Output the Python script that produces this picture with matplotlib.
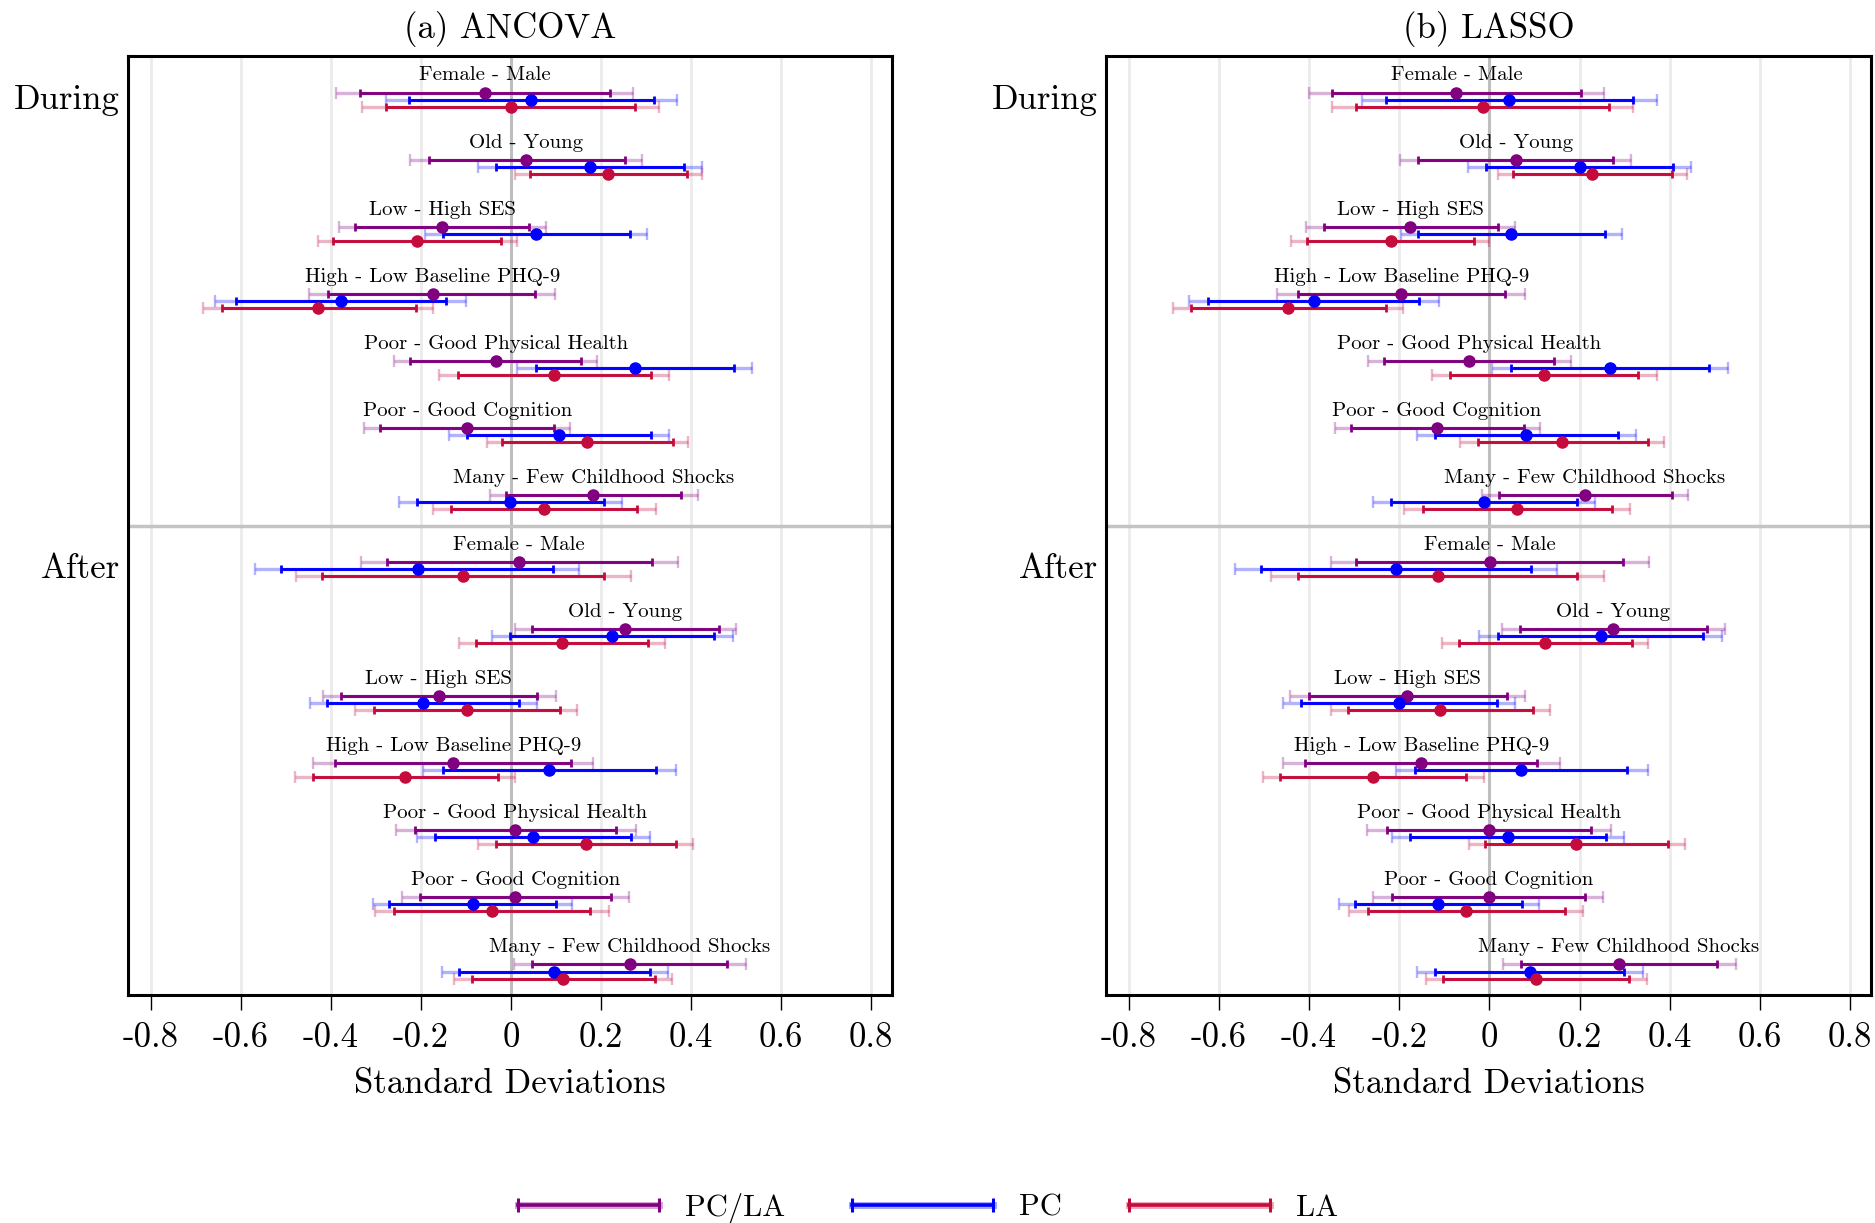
import matplotlib
matplotlib.use("Agg")
import matplotlib.pyplot as plt
from matplotlib.lines import Line2D
from matplotlib.legend_handler import HandlerBase
import numpy as np

plt.rcParams['font.family'] = ['cmr10', 'DejaVu Serif']
plt.rcParams['mathtext.fontset'] = 'cm'
plt.rcParams['axes.unicode_minus'] = False

# ---------------- data ----------------
groups = ["Female - Male", "Old - Young", "Low - High SES", "High - Low Baseline PHQ-9",
          "Poor - Good Physical Health", "Poor - Good Cognition", "Many - Few Childhood Shocks"]
periods = ["During", "After"]
series = ["PC/LA", "PC", "LA"]
panel_titles = ["(a) ANCOVA", "(b) LASSO"]
xtick_vals = [-0.8, -0.6, -0.4, -0.2, 0, 0.2, 0.4, 0.6, 0.8]
xtick_labels = ["-0.8", "-0.6", "-0.4", "-0.2", "0", "0.2", "0.4", "0.6", "0.8"]

# ANCOVA -- 7 During groups then 7 After groups
ancova_pcla_olo = [-0.388, -0.223, -0.381, -0.448, -0.260, -0.327, -0.046, -0.332, 0.008, -0.418, -0.439, -0.256, -0.242, 0.006]
ancova_pcla_ilo = [-0.335, -0.181, -0.345, -0.405, -0.225, -0.290, -0.010, -0.275, 0.047, -0.377, -0.390, -0.213, -0.201, 0.047]
ancova_pcla_est = [-0.057, 0.034, -0.152, -0.174, -0.034, -0.097, 0.183, 0.018, 0.254, -0.160, -0.128, 0.010, 0.010, 0.264]
ancova_pcla_ihi = [0.220, 0.253, 0.040, 0.054, 0.156, 0.095, 0.377, 0.313, 0.461, 0.058, 0.134, 0.234, 0.222, 0.480]
ancova_pcla_ohi = [0.271, 0.292, 0.077, 0.097, 0.191, 0.131, 0.415, 0.370, 0.500, 0.100, 0.183, 0.277, 0.262, 0.522]

ancova_pc_olo = [-0.278, -0.073, -0.191, -0.657, 0.014, -0.138, -0.249, -0.567, -0.043, -0.447, -0.196, -0.209, -0.306, -0.154]
ancova_pc_ilo = [-0.227, -0.033, -0.150, -0.611, 0.055, -0.098, -0.209, -0.510, -0.001, -0.408, -0.150, -0.168, -0.270, -0.116]
ancova_pc_est = [0.044, 0.175, 0.056, -0.378, 0.276, 0.106, -0.001, -0.207, 0.224, -0.195, 0.084, 0.050, -0.085, 0.096]
ancova_pc_ihi = [0.318, 0.384, 0.264, -0.143, 0.495, 0.312, 0.206, 0.093, 0.450, 0.018, 0.321, 0.267, 0.100, 0.308]
ancova_pc_ohi = [0.369, 0.424, 0.303, -0.099, 0.536, 0.352, 0.246, 0.151, 0.492, 0.058, 0.366, 0.309, 0.136, 0.349]

ancova_la_olo = [-0.331, 0.008, -0.429, -0.683, -0.159, -0.054, -0.174, -0.478, -0.115, -0.345, -0.479, -0.073, -0.301, -0.127]
ancova_la_ilo = [-0.277, 0.042, -0.394, -0.641, -0.117, -0.019, -0.134, -0.419, -0.077, -0.303, -0.440, -0.034, -0.260, -0.087]
ancova_la_est = [0.000, 0.216, -0.209, -0.428, 0.096, 0.169, 0.073, -0.106, 0.114, -0.098, -0.235, 0.166, -0.043, 0.115]
ancova_la_ihi = [0.275, 0.392, -0.022, -0.211, 0.310, 0.359, 0.281, 0.206, 0.305, 0.108, -0.029, 0.366, 0.175, 0.319]
ancova_la_ohi = [0.328, 0.425, 0.013, -0.173, 0.352, 0.394, 0.321, 0.266, 0.343, 0.147, 0.010, 0.405, 0.217, 0.358]

# LASSO
lasso_pcla_olo = [-0.400, -0.198, -0.406, -0.470, -0.270, -0.343, -0.016, -0.351, 0.027, -0.442, -0.457, -0.271, -0.258, 0.031]
lasso_pcla_ilo = [-0.349, -0.158, -0.367, -0.425, -0.234, -0.306, 0.021, -0.295, 0.068, -0.399, -0.409, -0.228, -0.215, 0.070]
lasso_pcla_est = [-0.073, 0.058, -0.175, -0.195, -0.046, -0.116, 0.212, 0.001, 0.275, -0.182, -0.151, -0.001, -0.002, 0.287]
lasso_pcla_ihi = [0.203, 0.273, 0.018, 0.035, 0.144, 0.076, 0.404, 0.297, 0.482, 0.038, 0.106, 0.225, 0.211, 0.505]
lasso_pcla_ohi = [0.255, 0.314, 0.056, 0.078, 0.180, 0.112, 0.441, 0.353, 0.523, 0.080, 0.156, 0.269, 0.252, 0.547]

lasso_pc_olo = [-0.283, -0.047, -0.196, -0.667, 0.005, -0.160, -0.259, -0.565, -0.023, -0.457, -0.208, -0.216, -0.333, -0.160]
lasso_pc_ilo = [-0.230, -0.008, -0.158, -0.624, 0.047, -0.121, -0.219, -0.507, 0.019, -0.417, -0.164, -0.175, -0.298, -0.120]
lasso_pc_est = [0.044, 0.200, 0.048, -0.389, 0.268, 0.082, -0.013, -0.207, 0.247, -0.201, 0.070, 0.042, -0.113, 0.090]
lasso_pc_ihi = [0.318, 0.407, 0.257, -0.156, 0.487, 0.286, 0.194, 0.093, 0.474, 0.016, 0.305, 0.259, 0.073, 0.299]
lasso_pc_ohi = [0.372, 0.446, 0.295, -0.111, 0.530, 0.325, 0.234, 0.150, 0.515, 0.057, 0.351, 0.299, 0.109, 0.341]

lasso_la_olo = [-0.349, 0.019, -0.440, -0.702, -0.127, -0.065, -0.190, -0.485, -0.104, -0.352, -0.503, -0.046, -0.311, -0.140]
lasso_la_ilo = [-0.295, 0.053, -0.405, -0.662, -0.088, -0.026, -0.148, -0.424, -0.068, -0.314, -0.465, -0.009, -0.270, -0.102]
lasso_la_est = [-0.015, 0.228, -0.219, -0.447, 0.121, 0.161, 0.061, -0.115, 0.124, -0.109, -0.259, 0.192, -0.052, 0.104]
lasso_la_ihi = [0.265, 0.404, -0.035, -0.230, 0.330, 0.352, 0.271, 0.195, 0.316, 0.096, -0.052, 0.395, 0.167, 0.310]
lasso_la_ohi = [0.318, 0.439, 0.000, -0.191, 0.371, 0.388, 0.311, 0.254, 0.352, 0.134, -0.012, 0.434, 0.208, 0.350]

colors = {"PC/LA": "#800080", "PC": "#0000FF", "LA": "#C50B3B"}

panels = [
    {"PC/LA": (ancova_pcla_olo, ancova_pcla_ilo, ancova_pcla_est, ancova_pcla_ihi, ancova_pcla_ohi),
     "PC": (ancova_pc_olo, ancova_pc_ilo, ancova_pc_est, ancova_pc_ihi, ancova_pc_ohi),
     "LA": (ancova_la_olo, ancova_la_ilo, ancova_la_est, ancova_la_ihi, ancova_la_ohi)},
    {"PC/LA": (lasso_pcla_olo, lasso_pcla_ilo, lasso_pcla_est, lasso_pcla_ihi, lasso_pcla_ohi),
     "PC": (lasso_pc_olo, lasso_pc_ilo, lasso_pc_est, lasso_pc_ihi, lasso_pc_ohi),
     "LA": (lasso_la_olo, lasso_la_ilo, lasso_la_est, lasso_la_ihi, lasso_la_ohi)},
]

# ---------------- figure ----------------
W, H = 1875, 1223
fig = plt.figure(figsize=(W / 100, H / 100), dpi=100)

ax_rects = [(128 / W, 1 - 995 / H, 764 / W, 939 / H),
            (1106 / W, 1 - 995 / H, 765 / W, 939 / H)]

n_groups = len(groups) * len(periods)
label_off = 0.29
bar_off = {"PC/LA": 0.545, "PC": 0.65, "LA": 0.755}

for p, (rect, data, title) in enumerate(zip(ax_rects, panels, panel_titles)):
    ax = fig.add_axes(rect)
    ax.set_xlim(-0.85, 0.846)
    ax.set_ylim(n_groups, 0)

    for xv in xtick_vals:
        if xv != 0:
            ax.axvline(xv, color="#EBEBEB", lw=2, zorder=0)
    ax.axvline(0, color="#BEBEBE", lw=2.2, zorder=1)
    ax.axhline(len(groups), color="#C4C4C4", lw=2.5, zorder=1)

    for s in series:
        olo, ilo, est, ihi, ohi = [np.array(a) for a in data[s]]
        ys = np.arange(n_groups) + bar_off[s]
        c = colors[s]
        ax.errorbar(est, ys, xerr=[est - olo, ohi - est], fmt="none", ecolor=c,
                    elinewidth=2.4, capsize=4.5, capthick=1.7, alpha=0.3, zorder=2)
        ax.errorbar(est, ys, xerr=[est - ilo, ihi - est], fmt="none", ecolor=c,
                    elinewidth=2.1, capsize=2.8, capthick=2.0, zorder=3)
        ax.plot(est, ys, "o", color=c, ms=8, zorder=4, linestyle="none")

    pcla_est = data["PC/LA"][2]
    for i in range(n_groups):
        ax.text(pcla_est[i], i + label_off, groups[i % len(groups)], ha="center",
                va="center", fontsize=15, zorder=5)

    ax.set_xticks(xtick_vals)
    ax.set_xticklabels(xtick_labels, fontsize=25)
    ax.tick_params(axis="x", direction="out", length=11, width=1.0, pad=9, top=False)
    ax.set_yticks([0.6, len(groups) + 0.6])
    ax.set_yticklabels(periods, fontsize=25)
    ax.tick_params(axis="y", length=0, pad=6)
    ax.set_xlabel("Standard Deviations", fontsize=25, labelpad=10)
    ax.set_title(title, fontsize=25, pad=13)
    for sp in ax.spines.values():
        sp.set_linewidth(2.2)
        sp.set_color("black")
        sp.set_zorder(6)


class CapLineHandler(HandlerBase):
    def create_artists(self, legend, orig_handle, xdescent, ydescent, width, height,
                       fontsize, trans):
        y = height / 2 - ydescent
        x0, x1 = -xdescent, width - xdescent
        c = orig_handle.get_color()
        light = Line2D([x0, x1], [y, y], color=c, lw=5, alpha=0.35, transform=trans)
        line = Line2D([x0, x1], [y, y], color=c, lw=2.6, transform=trans)
        caps = Line2D([x0, x1], [y, y], ls="none", marker="|", ms=10, mew=2.2,
                      color=c, transform=trans)
        return [light, line, caps]


handles = [Line2D([], [], color=colors[s]) for s in series]
fig.legend(handles, series, loc="center", bbox_to_anchor=(928 / W, 1 - 1208 / H),
           ncol=3, frameon=False, fontsize=22, handlelength=4.6, handletextpad=0.85,
           columnspacing=2.2, handler_map={Line2D: CapLineHandler()})

fig.savefig("out.png", dpi=100)
